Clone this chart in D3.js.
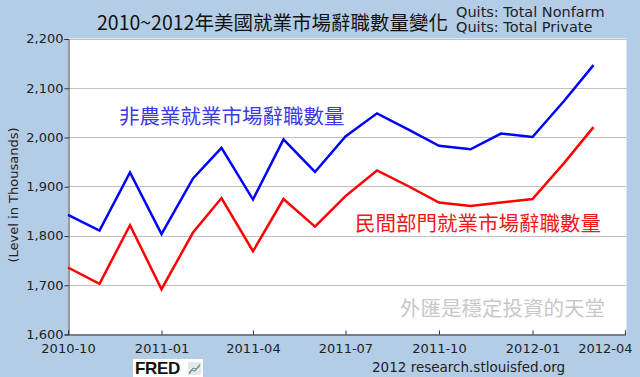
<!DOCTYPE html>
<html>
<head>
<meta charset="utf-8">
<script src="https://cdn.jsdelivr.net/npm/d3@7"></script>
<style>
  body { margin: 0; background: #b4cde6; }
  svg { display: block; }
</style>
</head>
<body>
<script>
// monthly values, thousands
const months = ['2010-10','2010-11','2010-12','2011-01','2011-02','2011-03','2011-04','2011-05','2011-06',
                '2011-07','2011-08','2011-09','2011-10','2011-11','2011-12','2012-01','2012-02','2012-03'];
const nonfarm = [1842,1810,1928,1803,1916,1978,1873,1995,1929,2001,2048,2015,1982,1975,2007,2000,2073,2146];
const privateQuits = [1735,1702,1821,1691,1806,1876,1768,1874,1818,1880,1932,1900,1867,1860,1867,1874,1947,2020];
const yTicks = [1600,1700,1800,1900,2000,2100,2200];
const xTicks = ['2010-10','2011-01','2011-04','2011-07','2011-10','2012-01','2012-04'];

const width = 640, height = 377;
const margin = {top: 38.5, right: 14, bottom: 43, left: 68};
const parse = d3.utcParse('%Y-%m');

const svg = d3.select('body').append('svg').attr('width', width).attr('height', height);

svg.append('rect').attr('width', width).attr('height', height).attr('fill', '#b4cde6');

const x = d3.scaleUtc()
    .domain([parse('2010-10'), parse('2012-04')])
    .range([margin.left, 625]);
const y = d3.scaleLinear()
    .domain([1600, 2200])
    .range([height - margin.bottom, margin.top]);

// plot area
svg.append('rect')
    .attr('x', margin.left).attr('y', margin.top)
    .attr('width', width - margin.right - margin.left + 0.5)
    .attr('height', y(1600) - margin.top)
    .attr('fill', '#fff');

// gridlines
svg.append('g').selectAll('line')
    .data(yTicks.filter(d => d > 1600))
    .join('line')
    .attr('x1', margin.left).attr('x2', width - margin.right + 0.5)
    .attr('y1', d => Math.round(y(d)) + 0.5).attr('y2', d => Math.round(y(d)) + 0.5)
    .attr('stroke', '#c0c0c0').attr('stroke-width', 1);

// y axis
const yAxis = svg.append('g')
    .attr('transform', 'translate(' + (margin.left + 0.5) + ',0.5)')
    .call(d3.axisLeft(y).tickValues(yTicks).tickSize(4).tickFormat(d3.format(',')));
yAxis.select('.domain').attr('stroke', '#333');
yAxis.selectAll('.tick line').attr('stroke', '#333');
yAxis.selectAll('text')
    .attr('font-family', 'DejaVu Sans').attr('font-size', 13).attr('fill', '#222')
    .attr('x', -5).attr('dy', '0.3em');

// x axis
const xAxis = svg.append('g')
    .attr('transform', 'translate(0,' + (Math.round(y(1600)) + 0.5) + ')')
    .call(d3.axisBottom(x).tickValues(xTicks.map(parse)).tickSize(-4).tickFormat(d3.utcFormat('%Y-%m')));
xAxis.select('.domain').attr('stroke', '#333');
xAxis.selectAll('.tick line').attr('stroke', '#333');
xAxis.selectAll('text')
    .attr('font-family', 'DejaVu Sans').attr('font-size', 13).attr('fill', '#222')
    .attr('y', 9).attr('dy', '0.71em');
xAxis.selectAll('.tick').filter(d => +d === +parse('2012-04')).select('text')
    .attr('text-anchor', 'end').attr('x', 7);

// lines
const line = d3.line()
    .x((d, i) => x(parse(months[i])))
    .y(d => y(d));

svg.append('path').datum(privateQuits)
    .attr('d', line).attr('fill', 'none')
    .attr('stroke', '#ff0000').attr('stroke-width', 2.5).attr('stroke-linejoin', 'miter');
svg.append('path').datum(nonfarm)
    .attr('d', line).attr('fill', 'none')
    .attr('stroke', '#0000ff').attr('stroke-width', 2.5).attr('stroke-linejoin', 'miter');

// annotations
const cjk = '"Noto Sans CJK TC", "Noto Sans CJK SC", sans-serif';
svg.append('text').attr('x', 119).attr('y', 124)
    .attr('font-family', cjk).attr('font-size', 20.5).attr('fill', '#3a3ae6')
    .text('非農業就業市場辭職數量');
svg.append('text').attr('x', 355).attr('y', 231)
    .attr('font-family', cjk).attr('font-size', 20.5).attr('fill', '#f01818')
    .text('民間部門就業市場辭職數量');
svg.append('text').attr('x', 400).attr('y', 315.5)
    .attr('font-family', cjk).attr('font-size', 20.5).attr('fill', '#c8c8c8')
    .text('外匯是穩定投資的天堂');

// title and legend
svg.append('text').attr('x', 97).attr('y', 30)
    .attr('font-family', cjk).attr('font-size', 19.5).attr('fill', '#111')
    .text('2010~2012年美國就業市場辭職數量變化');
svg.append('text').attr('x', 456).attr('y', 17)
    .attr('font-family', 'DejaVu Sans').attr('font-size', 14.5).attr('fill', '#222')
    .text('Quits: Total Nonfarm');
svg.append('text').attr('x', 456).attr('y', 32)
    .attr('font-family', 'DejaVu Sans').attr('font-size', 14.5).attr('fill', '#222')
    .text('Quits: Total Private');

// y label
svg.append('text')
    .attr('transform', 'translate(17.5,195) rotate(-90)')
    .attr('text-anchor', 'middle')
    .attr('font-family', 'DejaVu Sans').attr('font-size', 13).attr('fill', '#222')
    .text('(Level in Thousands)');

// footer
const logo = svg.append('g').attr('transform', 'translate(133,359)');
logo.append('rect').attr('width', 70).attr('height', 18).attr('fill', '#fff');
logo.append('text').attr('x', 2).attr('y', 15)
    .attr('font-family', 'Liberation Sans').attr('font-weight', 'bold').attr('font-size', 17)
    .attr('fill', '#111').attr('letter-spacing', -0.3)
    .text('FRED');
logo.append('rect').attr('x', 55).attr('y', 3).attr('width', 13).attr('height', 13).attr('fill', '#e4e8ec');
logo.append('path').attr('d', 'M56,15 L59,11 L62,12 L67,5').attr('fill', 'none')
    .attr('stroke', '#7aa64a').attr('stroke-width', 1.2);
logo.append('path').attr('d', 'M56,14 L60,9 L63,10 L67,7').attr('fill', 'none')
    .attr('stroke', '#5b87c2').attr('stroke-width', 1);

svg.append('text').attr('x', 372).attr('y', 372)
    .attr('font-family', 'DejaVu Sans').attr('font-size', 13.5).attr('fill', '#222')
    .text('2012 research.stlouisfed.org');
</script>
</body>
</html>
